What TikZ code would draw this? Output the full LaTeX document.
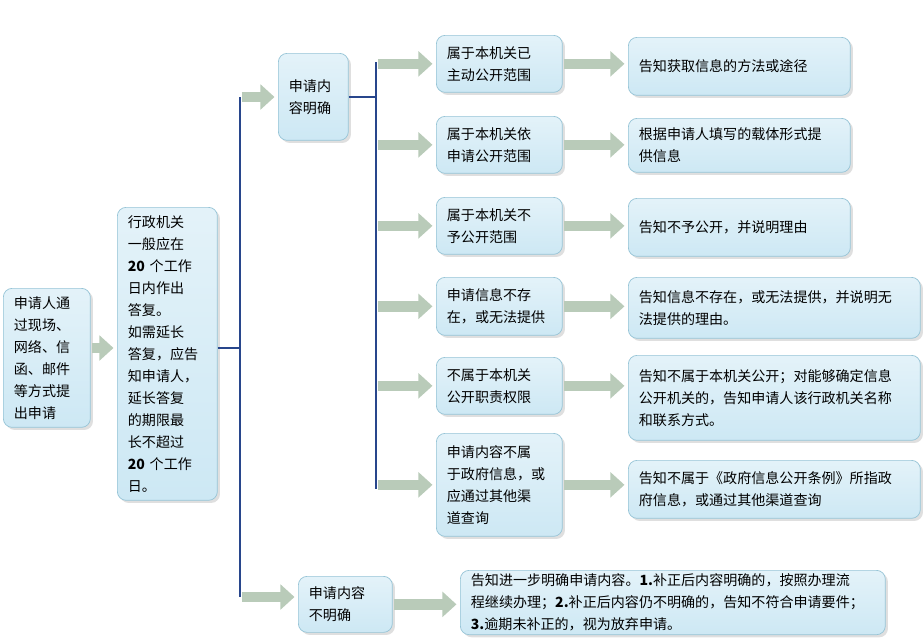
\documentclass[tikz,border=0pt]{standalone}
\usepackage{fontspec}
\setmainfont{Noto Sans CJK SC}
\usetikzlibrary{positioning,arrows.meta,shadows}

\definecolor{boxfill}{RGB}{205,232,244}
\definecolor{boxline}{RGB}{150,196,214}
\definecolor{treeline}{RGB}{40,70,140}
\definecolor{arrfill}{RGB}{200,222,200}

\tikzset{
  box/.style={rectangle, draw=boxline, rounded corners=5pt, top color=boxfill!55, bottom color=boxfill,
    inner xsep=6pt, inner ysep=2pt, align=left, anchor=north west,
    font=\fontsize{8}{12.5}\selectfont, drop shadow={opacity=0.25,shadow xshift=1.5pt,shadow yshift=-1.5pt}},
  tree/.style={draw=treeline, line width=0.7pt},
  blockarr/.style={draw=arrfill!80!gray, line width=6pt, shorten >=2pt, shorten <=1pt,
    -{Triangle[width=14pt,length=8pt]}}
}

% box: name, x, y, width, height (pixels), text
\newcommand\bx[6]{%
  \pgfmathsetmacro\tw{#4*0.5691-12}%
  \pgfmathsetmacro\mw{#4*0.5691}%
  \pgfmathsetmacro\mh{#5*0.5691}%
  \node[box, minimum width=\mw pt, minimum height=\mh pt, text width=\tw pt] (#1) at (#2,#3) {#6};}

\begin{document}
\begin{tikzpicture}[x=0.02cm, y=-0.02cm]
\useasboundingbox (0,0) rectangle (923,639);

% left boxes
\bx{apply}{3}{288}{87}{139}{申请人通\\过现场、\\网络、信\\函、邮件\\等方式提\\出申请}
\bx{reply}{117}{207}{100}{293}{行政机关\\一般应在\\\textbf{20} 个工作\\日内作出\\答复。\\如需延长\\答复，应告\\知申请人，\\延长答复\\的期限最\\长不超过\\\textbf{20} 个工作\\日。}
\bx{clear}{278}{53}{70}{87}{申请内\\容明确}
\bx{unclear}{298}{576}{94}{56}{申请内容\\不明确}

% middle column
\bx{r1}{436}{35}{126}{57}{属于本机关已\\主动公开范围}
\bx{r2}{436}{116}{126}{57}{属于本机关依\\申请公开范围}
\bx{r3}{436}{197}{126}{57}{属于本机关不\\予公开范围}
\bx{r4}{436}{277}{126}{58}{申请信息不存\\在，或无法提供}
\bx{r5}{436}{357}{126}{57}{不属于本机关\\公开职责权限}
\bx{r6}{436}{433}{126}{103}{申请内容不属\\于政府信息，或\\应通过其他渠\\道查询}

% right column
\bx{s1}{628}{37}{222}{58}{告知获取信息的方法或途径}
\bx{s2}{628}{118}{222}{54}{根据申请人填写的载体形式提\\供信息}
\bx{s3}{628}{198}{222}{58}{告知不予公开，并说明理由}
\bx{s4}{628}{277}{292}{61}{告知信息不存在，或无法提供，并说明无\\法提供的理由。}
\bx{s5}{628}{355}{292}{85}{告知不属于本机关公开；对能够确定信息\\公开机关的，告知申请人该行政机关名称\\和联系方式。}
\bx{s6}{628}{460}{292}{58}{告知不属于《政府信息公开条例》所指政\\府信息，或通过其他渠道查询}
\bx{notice}{460}{570}{425}{62}{告知进一步明确申请内容。\textbf{1.}补正后内容明确的，按照办理流\\程继续办理；\textbf{2.}补正后内容仍不明确的，告知不符合申请要件；\\\textbf{3.}逾期未补正的，视为放弃申请。}

% trunks
\coordinate (ta) at (240,348);
\coordinate (tb) at (376,97);
\draw[tree] (reply.east |- ta) -- (ta);
\draw[tree] (240,97) -- (240,597);
\draw[tree] (clear.east |- tb) -- (tb);
\draw[tree] (376,62) -- (376,489);

% block arrows
\draw[blockarr] (apply.east |- ta) -- (reply.west |- ta);
\draw[blockarr] (240,97) -- (clear.west |- 0,97);
\draw[blockarr] (240,597) -- (unclear.west |- 0,597);
\foreach \r in {r1,r2,r3,r4,r5,r6}
  \draw[blockarr] (376,0 |- \r.west) -- (\r.west);
\foreach \r/\s in {r1/s1,r2/s2,r3/s3,r4/s4,r5/s5,r6/s6}
  \draw[blockarr] (\r.east) -- (\s.west |- \r.east);
\draw[blockarr] (unclear.east) -- (notice.west |- unclear.east);

\end{tikzpicture}
\end{document}
